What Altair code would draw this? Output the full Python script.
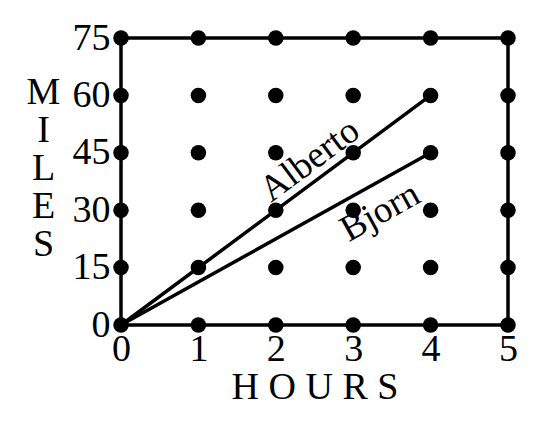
import altair as alt
import pandas as pd

hours = [0, 1, 2, 3, 4, 5]
miles = [0, 15, 30, 45, 60, 75]

alberto_hours = [0, 4]
alberto_miles = [0, 60]
bjorn_hours = [0, 4]
bjorn_miles = [0, 45]

labels = ["Alberto", "Bjorn"]
label_x = [2.44, 3.35]
label_y = [43.0, 29.5]
label_angle = [323.4, 330.9]

FONT = "Liberation Serif"

grid = pd.DataFrame([{"h": h, "m": m} for h in hours for m in miles])
lines = pd.DataFrame(
    [{"h": h, "m": m, "who": "Alberto"} for h, m in zip(alberto_hours, alberto_miles)]
    + [{"h": h, "m": m, "who": "Bjorn"} for h, m in zip(bjorn_hours, bjorn_miles)]
)
lab = pd.DataFrame({"name": labels, "h": label_x, "m": label_y, "a": label_angle})
frame = pd.DataFrame({"h": [hours[0]], "h2": [hours[-1]], "m": [miles[0]], "m2": [miles[-1]]})

xs = alt.Scale(domain=[0, 5], nice=False, zero=True)
ys = alt.Scale(domain=[0, 75], nice=False, zero=True)

xaxis = alt.Axis(
    values=hours, format="d", domain=False, ticks=False, grid=False,
    labelFont=FONT, labelFontSize=38, labelColor="black", labelPadding=5,
    labelFlush=False,
    title="H  O  U  R  S", titleFont=FONT, titleFontSize=38, titleFontWeight="normal",
    titleColor="black", titlePadding=0,
)
yaxis = alt.Axis(
    values=miles, format="d", domain=False, ticks=False, grid=False,
    labelFont=FONT, labelFontSize=38, labelColor="black", labelPadding=11,
    labelFlush=False, labelBaseline="middle",
    title=["M", "I", "L", "E", "S"], titleFont=FONT, titleFontSize=38,
    titleFontWeight="normal", titleColor="black", titleAngle=0,
    titleLineHeight=38, titleAlign="center", titleBaseline="middle",
    titleX=-78, titleY=54,
)

base = alt.Chart(grid)

rect = alt.Chart(frame).mark_rect(fill=None, stroke="black", strokeWidth=3.5).encode(
    x=alt.X("h:Q", scale=xs, axis=xaxis),
    x2="h2:Q",
    y=alt.Y("m:Q", scale=ys, axis=yaxis),
    y2="m2:Q",
)

pts = base.mark_circle(size=240, color="black", opacity=1).encode(
    x=alt.X("h:Q", scale=xs), y=alt.Y("m:Q", scale=ys)
)

ln = alt.Chart(lines).mark_line(color="black", strokeWidth=3.5).encode(
    x=alt.X("h:Q", scale=xs), y=alt.Y("m:Q", scale=ys), detail="who:N"
)

txt = alt.Chart(lab).mark_text(font=FONT, fontSize=37, color="black", align="center", baseline="middle").encode(
    x=alt.X("h:Q", scale=xs), y=alt.Y("m:Q", scale=ys), text="name:N", angle=alt.Angle("a:Q", scale=None)
)

chart = (
    alt.layer(rect, ln, pts, txt)
    .properties(width=387, height=287, autosize=alt.AutoSizeParams(type="none"),
                padding={"left": 113, "top": 30, "right": 20, "bottom": 80})
    .configure_view(stroke=None)
    .configure(background="white")
)

chart.save("out.html", embed_options={"renderer": "svg", "actions": False})
